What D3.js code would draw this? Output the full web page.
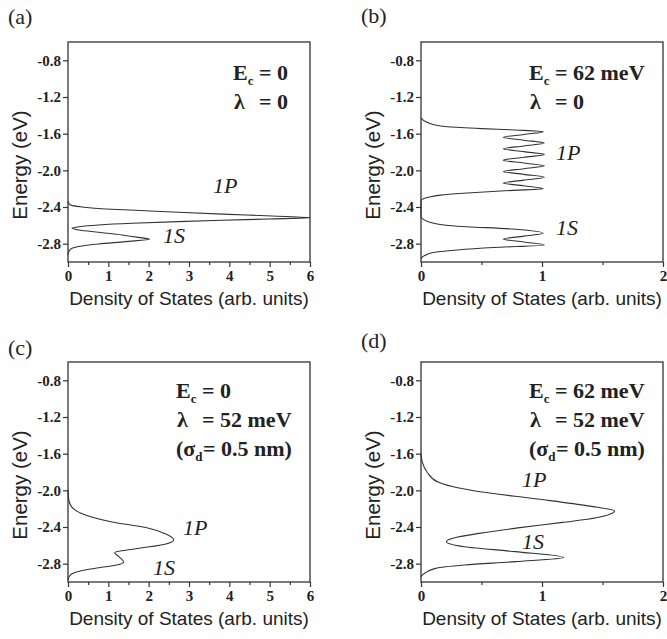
<!DOCTYPE html>
<html>
<head>
<meta charset="utf-8">
<script src="https://cdn.jsdelivr.net/npm/d3@7"></script>
<style>
  body { margin: 0; background: #fff; }
  svg { display: block; }
  .tick text { font-family: "Liberation Serif", "Times New Roman", serif; font-weight: bold; font-size: 15px; fill: #222; }
  .tick line { stroke: #333; stroke-width: 1.2; }
</style>
</head>
<body>
<script>

// axis ranges and ticks
var energyDomain = [-3.0, -0.6];
var energyTicks = [-0.8, -1.2, -1.6, -2.0, -2.4, -2.8];
var dosTicksWide = [0, 1, 2, 3, 4, 5, 6];
var dosMinorWide = [0.5, 1.5, 2.5, 3.5, 4.5, 5.5];
var dosTicksNarrow = [0, 1, 2];
var dosMinorNarrow = [0.5, 1.5];

// (a) Ec = 0, lambda = 0
var energyA = [-2.34, -2.378, -2.40, -2.422, -2.436, -2.458, -2.48, -2.498, -2.517,
               -2.531, -2.545, -2.56, -2.578, -2.596, -2.615, -2.632,
               -2.651, -2.676, -2.705, -2.731, -2.752, -2.778, -2.804, -2.825, -2.85, -2.888, -2.924];
var dosA    = [0, 0.06, 0.35, 0.93, 1.67, 2.74, 3.98, 5.06, 6.0,
               4.98, 3.82, 2.74, 1.59, 0.76, 0.27, 0.10,
               0.27, 0.76, 1.34, 1.75, 2.02, 1.42, 0.76, 0.35, 0.10, 0.02, 0];

// (b) Ec = 62 meV, lambda = 0
var energyB = [-1.43, -1.47, -1.50, -1.525, -1.545, -1.56, -1.578,
               -1.609, -1.640, -1.671, -1.703, -1.734, -1.765, -1.796, -1.827,
               -1.858, -1.889, -1.920, -1.951, -1.982, -2.013, -2.044, -2.076,
               -2.107, -2.138, -2.169, -2.200,
               -2.225, -2.25, -2.27, -2.29, -2.31, -2.33, -2.50,
               -2.56, -2.607, -2.643, -2.687, -2.718, -2.749, -2.782, -2.814,
               -2.842, -2.869, -2.896, -2.93, -2.96];
var dosB    = [0, 0.04, 0.10, 0.22, 0.50, 0.78, 1.01,
               0.85, 0.68, 0.85, 1.02, 0.85, 0.68, 0.85, 1.02,
               0.85, 0.68, 0.85, 1.02, 0.85, 0.68, 0.85, 1.02,
               0.85, 0.68, 0.85, 1.01,
               0.66, 0.35, 0.16, 0.07, 0.02, 0, 0,
               0.06, 0.28, 0.78, 1.01, 0.85, 0.68, 0.85, 1.02,
               0.60, 0.30, 0.10, 0.03, 0];

// (c) Ec = 0, lambda = 52 meV
var energyC = [-1.996, -2.105, -2.18, -2.25, -2.342, -2.405, -2.48, -2.538,
               -2.585, -2.638, -2.678, -2.724, -2.782, -2.815, -2.845, -2.872, -2.90, -2.94, -2.98];
var dosC    = [0, 0.02, 0.09, 0.32, 1.06, 1.93, 2.44, 2.62,
               2.43, 1.68, 1.16, 1.26, 1.38, 1.21, 0.76, 0.38, 0.15, 0.03, 0];

// (d) Ec = 62 meV, lambda = 52 meV
var energyD = [-1.597, -1.69, -1.80, -1.91, -2.01, -2.10, -2.17, -2.224,
               -2.30, -2.35, -2.41, -2.47, -2.52, -2.56, -2.615, -2.669, -2.733,
               -2.778, -2.815, -2.851, -2.905, -2.942];
var dosD    = [0, 0.01, 0.05, 0.14, 0.46, 1.0, 1.38, 1.60,
               1.45, 1.17, 0.80, 0.48, 0.27, 0.21, 0.36, 0.78, 1.18,
               0.78, 0.36, 0.12, 0.03, 0];

var panelTags = ["(a)", "(b)", "(c)", "(d)"];
var ecValues = ["0", "62 meV", "0", "62 meV"];
var lambdaValues = ["0", "0", "52 meV", "52 meV"];
var sigmaValues = [null, null, "0.5 nm", "0.5 nm"];

// panel placement (pixels)
var plotW = 242, plotH = 220;
var layout = [
  { left: 68,  top: 42,  wide: true,  tag: [8, 24],    note: [233, 80],  p1: [213, 193], s1: [163, 243] },
  { left: 421, top: 42,  wide: false, tag: [361, 23],  note: [529, 80],  p1: [556, 160], s1: [556, 235] },
  { left: 68,  top: 362, wide: true,  tag: [8, 355],   note: [176, 398], p1: [183, 535], s1: [153, 575] },
  { left: 421, top: 362, wide: false, tag: [361, 348], note: [529, 398], p1: [522, 487], s1: [522, 549] }
];

var curves = [
  d3.zip(energyA, dosA), d3.zip(energyB, dosB),
  d3.zip(energyC, dosC), d3.zip(energyD, dosD)
];

var svg = d3.select("body").append("svg")
  .attr("width", 667)
  .attr("height", 639);

var serif = "'Liberation Serif', 'Times New Roman', serif";
var sans = "'Liberation Sans', Arial, sans-serif";

layout.forEach(function(L, i) {
  var xMax = L.wide ? 6 : 2;
  var x = d3.scaleLinear().domain([0, xMax]).range([0, plotW]);
  var y = d3.scaleLinear().domain(energyDomain).range([plotH, 0]);

  var g = svg.append("g").attr("transform", "translate(" + L.left + "," + L.top + ")");

  // minor x ticks
  g.append("g")
    .attr("transform", "translate(0," + plotH + ")")
    .call(d3.axisBottom(x).tickValues(L.wide ? dosMinorWide : dosMinorNarrow)
      .tickSize(3).tickSizeOuter(0).tickFormat(""))
    .call(function(a) { a.select(".domain").remove(); });

  // major x ticks
  g.append("g")
    .attr("transform", "translate(0," + plotH + ")")
    .call(d3.axisBottom(x).tickValues(L.wide ? dosTicksWide : dosTicksNarrow)
      .tickSize(5).tickSizeOuter(0).tickPadding(3).tickFormat(d3.format("d")))
    .call(function(a) { a.select(".domain").remove(); });

  // y ticks
  g.append("g")
    .call(d3.axisLeft(y).tickValues(energyTicks)
      .tickSize(5).tickSizeOuter(0).tickPadding(2)
      .tickFormat(function(d) { return d.toFixed(1); }))
    .call(function(a) { a.select(".domain").remove(); });

  // frame
  g.append("rect")
    .attr("width", plotW)
    .attr("height", plotH)
    .attr("fill", "none")
    .attr("stroke", "#333")
    .attr("stroke-width", 1.3);

  // DOS curve
  var line = d3.line()
    .x(function(d) { return x(d[1]); })
    .y(function(d) { return y(d[0]); })
    .curve(d3.curveMonotoneY);

  g.append("path")
    .datum(curves[i])
    .attr("d", line)
    .attr("fill", "none")
    .attr("stroke", "#333")
    .attr("stroke-width", 1.1);

  // axis titles
  g.append("text")
    .attr("x", plotW / 2)
    .attr("y", plotH + 43)
    .attr("text-anchor", "middle")
    .style("font-family", sans)
    .style("font-size", "19px")
    .style("fill", "#222")
    .text("Density of States (arb. units)");

  g.append("text")
    .attr("transform", "translate(-41," + 123 + ") rotate(-90)")
    .attr("text-anchor", "middle")
    .style("font-family", sans)
    .style("font-size", "20.5px")
    .style("fill", "#222")
    .text("Energy (eV)");

  // panel tag
  svg.append("text")
    .attr("x", L.tag[0])
    .attr("y", L.tag[1])
    .style("font-family", serif)
    .style("font-size", "22px")
    .style("fill", "#222")
    .text(panelTags[i]);

  // parameter notes
  var ax = L.note[0], ay = L.note[1];
  var note = function(yy) {
    return svg.append("text")
      .attr("x", ax)
      .attr("y", yy)
      .style("font-family", serif)
      .style("font-weight", "bold")
      .style("font-size", "22px")
      .style("fill", "#222");
  };

  var t1 = note(ay);
  t1.append("tspan").text("E");
  t1.append("tspan").attr("dy", 5).style("font-size", "13px").text("c");
  t1.append("tspan").attr("x", ax + 26).attr("dy", -5).text("= " + ecValues[i]);

  var t2 = note(ay + 29);
  t2.append("tspan").attr("x", ax + 1).text("λ");
  t2.append("tspan").attr("x", ax + 26).text("= " + lambdaValues[i]);

  if (sigmaValues[i]) {
    var t3 = note(ay + 58);
    t3.append("tspan").text("(σ");
    t3.append("tspan").attr("dy", 5).style("font-size", "13px").text("d");
    t3.append("tspan").attr("x", ax + 27).attr("dy", -5).text("= " + sigmaValues[i] + ")");
  }

  // level labels
  [["1P", L.p1], ["1S", L.s1]].forEach(function(lb) {
    svg.append("text")
      .attr("x", lb[1][0])
      .attr("y", lb[1][1])
      .style("font-family", serif)
      .style("font-style", "italic")
      .style("font-size", "22px")
      .style("fill", "#222")
      .text(lb[0]);
  });
});

</script>
</body>
</html>
